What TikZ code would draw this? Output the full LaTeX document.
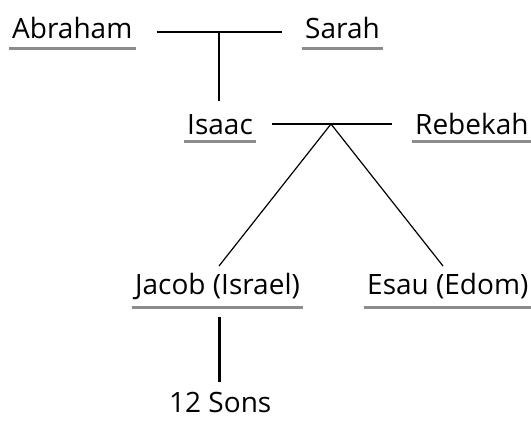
\documentclass[tikz,border=0pt]{standalone}
\usepackage{fontspec}
\setmainfont{Open Sans}
\begin{document}
\begin{tikzpicture}[x=1pt,y=-1pt,
  person/.style={inner sep=0pt,anchor=base west,font=\fontsize{28}{30}\selectfont},
  ul/.style={line width=3pt,draw=black!45},
  conn/.style={line width=1.2pt}]
\useasboundingbox (0,0) rectangle (531,421);
\node[person] (ab) at (12,38) {Abraham};
\node[person] (sa) at (305,38) {Sarah};
\node[person] (is) at (187,134) {Isaac};
\node[person] (re) at (415,134) {Rebekah};
\node[person] (ja) at (135,294) {Jacob (Israel)};
\node[person] (es) at (367,294) {Esau (Edom)};
\node[person] (so) at (169,412) {12 Sons};
% underlines
\foreach \n/\y in {ab/48,sa/48,is/141,re/141,ja/307,es/307}{
  \draw[ul] ([xshift=-3pt]\n.west |- 0,\y) -- ([xshift=3pt]\n.east |- 0,\y);
}
\coordinate (m1) at (219,32);
\coordinate (m2) at (331,124);
\draw[conn] ([xshift=24pt]ab.east |- m1) -- ([xshift=-23pt]sa.west |- m1);
\draw[conn] (m1) -- (m1 |- 0,101);
\draw[conn] ([xshift=19pt]is.east |- m2) -- ([xshift=-23pt]re.west |- m2);
\draw[conn] (m2) -- (219,266);
\draw[conn] (m2) -- (443,266);
\draw[line width=3pt] (219,317) -- (219,382);
\end{tikzpicture}
\end{document}
